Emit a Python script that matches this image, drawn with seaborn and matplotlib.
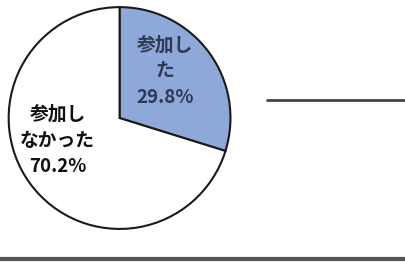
import matplotlib
matplotlib.use('Agg')
import matplotlib.pyplot as plt
import seaborn as sns
from matplotlib.lines import Line2D

sns.set_theme(style='white')
plt.rcParams['font.family'] = ['Noto Sans CJK JP', 'DejaVu Sans']

labels = ['参加し\nた\n29.8%', '参加し\nなかった\n70.2%']
shares = [29.8, 70.2]
colors = ['#8DA8D9', '#FFFFFF']
text_colors = ['#2E3A52', '#111111']
label_pos = [(0.41, 0.42), (-0.56, -0.20)]

fig = plt.figure(figsize=(4.06, 2.62), dpi=100)
ax = fig.add_axes([0.0185, 0.122, 0.552, 0.855])
ax.pie(shares, colors=colors, startangle=90, counterclock=False,
       wedgeprops={'edgecolor': '#1a1a1a', 'linewidth': 1.5})
ax.set_xlim(-1.01, 1.01)
ax.set_ylim(-1.01, 1.01)
ax.set_aspect('equal')
for lab, (x, y), c in zip(labels, label_pos, text_colors):
    ax.text(x, y, lab, ha='center', va='center', fontsize=13.5,
            fontweight='bold', color=c, linespacing=1.5)

# decorative rules from the scanned page
fig.add_artist(Line2D([0.658, 1.0], [0.618, 0.618], color='#444444', lw=2))
fig.add_artist(Line2D([0.0, 1.0], [0.012, 0.012], color='#555555', lw=3))

fig.savefig('out.png', dpi=100, facecolor='white')
